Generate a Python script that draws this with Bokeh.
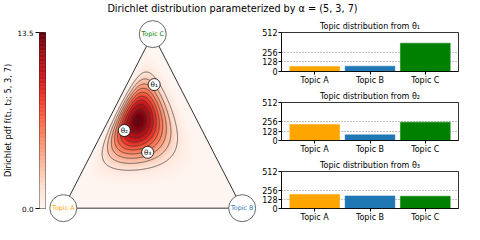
import math
import numpy as np
from bokeh.plotting import figure
from bokeh.layouts import column, row
from bokeh.models import (LinearColorMapper, FixedTicker, PrintfTickFormatter,
                          FactorRange, ColumnDataSource, Range1d)
from bokeh.core.properties import value
from bokeh.palettes import Reds9
from bokeh.embed import file_html
from bokeh.resources import INLINE

# ---------------- data ----------------
alpha = [5, 3, 7]
cbar_ticks = [0.0, 13.5]
topics = ["Topic A", "Topic B", "Topic C"]
topic_colors = ["#ffa500", "#1f77b4", "#008000"]
theta_names = ["θ₁", "θ₂", "θ₃"]
theta_a = [0.137, 0.436, 0.368]
theta_b = [0.153, 0.118, 0.311]
theta_c = [0.710, 0.446, 0.321]
counts_1 = [66, 70, 372]
counts_2 = [214, 76, 247]
counts_3 = [195, 174, 170]
bar_ticks = [0, 128, 256, 512]
contour_levels = [1.35, 2.7, 4.05, 5.4, 6.75, 8.1, 9.45, 10.8, 12.15, 13.45]

FONT = "DejaVu Sans"

# ---------------- colormap (matplotlib-like Reds) ----------------
base = list(Reds9)[::-1]  # light -> dark
rgb = np.array([[int(h[i:i + 2], 16) for i in (1, 3, 5)] for h in base], dtype=float)
pos = np.linspace(0, 1, len(base))
t = np.linspace(0, 1, 256)
interp = np.stack([np.interp(t, pos, rgb[:, k]) for k in range(3)], axis=1)
reds = ["#%02x%02x%02x" % tuple(int(round(v)) for v in c) for c in interp]
mapper = LinearColorMapper(palette=reds, low=cbar_ticks[0], high=cbar_ticks[-1], nan_color="white")


def no_align(p):
    try:
        p.frame_align = False
    except Exception:
        pass


def to_xy(a, b, c):
    a = np.asarray(a, float); b = np.asarray(b, float); c = np.asarray(c, float)
    return b + c / 2.0, c


# ---------------- density on simplex ----------------
n = 400
gx = np.linspace(0, 1, n)
gy = np.linspace(0, 1, n)
GX, GY = np.meshgrid(gx, gy)
Cc = GY
Bb = GX - GY / 2.0
Aa = 1.0 - Bb - Cc
inside = (Aa >= 0) & (Bb >= 0) & (Cc >= 0)
lognorm = math.lgamma(sum(alpha)) - sum(math.lgamma(a) for a in alpha)
with np.errstate(divide="ignore", invalid="ignore"):
    Z = np.exp(lognorm + (alpha[0] - 1) * np.log(np.clip(Aa, 1e-300, None))
               + (alpha[1] - 1) * np.log(np.clip(Bb, 1e-300, None))
               + (alpha[2] - 1) * np.log(np.clip(Cc, 1e-300, None)))
Z = np.where(inside, Z, 0.0)
IMG = np.where(inside, Z, np.nan)

# ---------------- title strip ----------------
head = figure(width=464, height=16, toolbar_location=None, output_backend="svg",
              title="Dirichlet distribution parameterized by α = (5, 3, 7)",
              x_range=Range1d(0, 1), y_range=Range1d(0, 1), min_border=0)
head.title.align = "center"
head.title.text_font = FONT
head.title.text_font_size = "9.7px"
head.title.text_font_style = "normal"
head.title.text_color = "black"
head.title.standoff = 0
head.axis.visible = False
head.grid.visible = False
head.outline_line_color = None
no_align(head)

# ---------------- colorbar ----------------
cb = figure(width=46, height=208, toolbar_location=None, output_backend="svg",
            x_range=Range1d(0, 1), y_range=Range1d(cbar_ticks[0], cbar_ticks[-1]),
            min_border_left=39, min_border_right=1, min_border_top=16, min_border_bottom=16)
no_align(cb)
edges = np.linspace(cbar_ticks[0], cbar_ticks[-1], 129)
cb_src = ColumnDataSource(dict(bottom=edges[:-1], top=edges[1:], mid=(edges[:-1] + edges[1:]) / 2))
cb.quad(left=0, right=1, bottom="bottom", top="top", source=cb_src,
        fill_color={"field": "mid", "transform": mapper},
        line_color={"field": "mid", "transform": mapper}, line_width=0.6)
cb.xaxis.visible = False
cb.grid.visible = False
cb.yaxis.ticker = FixedTicker(ticks=cbar_ticks)
cb.yaxis.formatter = PrintfTickFormatter(format="%.1f")
cb.yaxis.axis_label = "Dirichlet pdf f(t₁, t₂; 5, 3, 7)"
cb.yaxis.axis_label_text_font = FONT
cb.yaxis.axis_label_text_font_size = "8.3px"
cb.yaxis.axis_label_text_font_style = "normal"
cb.yaxis.axis_label_text_color = "black"
cb.yaxis.axis_label_standoff = 1
cb.yaxis.major_label_text_font = FONT
cb.yaxis.major_label_text_font_size = "7.2px"
cb.yaxis.major_label_text_color = "black"
cb.yaxis.major_label_standoff = 2
cb.yaxis.major_tick_out = 4
cb.yaxis.major_tick_in = 0
cb.yaxis.minor_tick_out = 0
cb.yaxis.axis_line_color = None
cb.yaxis.major_tick_line_color = "black"
cb.outline_line_color = "black"
cb.outline_line_width = 0.8

# ---------------- simplex plot ----------------
tri = figure(width=213, height=208, toolbar_location=None, output_backend="svg",
             x_range=Range1d(-0.0941, 1.0970), y_range=Range1d(-0.0938, 1.1011),
             min_border=0)
no_align(tri)
tri.axis.visible = False
tri.grid.visible = False
tri.outline_line_color = None
tri.image(image=[IMG], x=0, y=0, dw=1, dh=1, color_mapper=mapper)
tri.contour(x=gx, y=gy, z=Z, levels=contour_levels, fill_color=None,
            line_color="#333333", line_width=0.7)

corner_a = [1, 0, 0]
corner_b = [0, 1, 0]
corner_c = [0, 0, 1]
vx, vy = to_xy(corner_a, corner_b, corner_c)
tri.line(x=list(vx) + [vx[0]], y=list(vy) + [vy[0]], line_color="#333333", line_width=1)
tri.scatter(x=vx, y=vy, marker="circle", size=27, fill_color="white",
            line_color="#444444", line_width=0.8)
tri.text(x=vx, y=vy, text=topics, text_color=topic_colors, text_font=value(FONT),
         text_font_size="6.4px", text_align="center", text_baseline="middle")

tx, ty = to_xy(theta_a, theta_b, theta_c)
tri.scatter(x=tx, y=ty, marker="circle", size=12, fill_color="white",
            line_color="black", line_width=0.8)
tri.text(x=tx, y=ty, text=theta_names, text_color="black", text_font=value(FONT),
         text_font_size="7.2px", text_align="center", text_baseline="middle")


# ---------------- bar panels ----------------
def make_bar(counts, label, height, top, standoff):
    p = figure(width=205, height=height, toolbar_location=None, output_backend="svg",
               x_range=FactorRange(factors=topics, range_padding=0.1, range_padding_units="absolute"),
               y_range=Range1d(bar_ticks[0], bar_ticks[-1]), title=label,
               min_border_left=22, min_border_right=6, min_border_top=top,
               min_border_bottom=12)
    no_align(p)
    src = ColumnDataSource(dict(topic=topics, count=counts, color=topic_colors))
    p.vbar(x="topic", top="count", width=0.9, fill_color="color", line_color="color",
           line_width=0.5, source=src)
    p.title.align = "center"
    p.title.text_font = FONT
    p.title.text_font_size = "8px"
    p.title.text_font_style = "normal"
    p.title.text_color = "black"
    p.title.standoff = standoff
    p.xgrid.visible = False
    p.ygrid.ticker = FixedTicker(ticks=bar_ticks)
    p.ygrid.grid_line_color = "#666666"
    p.ygrid.grid_line_dash = "1 2"
    p.ygrid.grid_line_width = 0.8
    p.yaxis.ticker = FixedTicker(ticks=bar_ticks)
    for ax in (p.xaxis[0], p.yaxis[0]):
        ax.major_label_text_font = FONT
        ax.major_label_text_font_size = "8px"
        ax.major_label_text_color = "black"
        ax.major_tick_out = 3
        ax.major_tick_in = 0
        ax.minor_tick_out = 0
        ax.minor_tick_line_color = None
        ax.major_tick_line_color = "black"
        ax.axis_line_color = "black"
        ax.axis_line_width = 0.8
        ax.axis_label = None
        ax.axis_label_standoff = 0
    p.xaxis.major_label_standoff = 1
    p.yaxis.major_label_standoff = 1
    p.outline_line_color = "black"
    p.outline_line_width = 0.8
    return p


b1 = make_bar(counts_1, "Topic distribution from θ₁", 71, 16, 4)
b2 = make_bar(counts_2, "Topic distribution from θ₂", 69, 14, 4)
b3 = make_bar(counts_3, "Topic distribution from θ₃", 68, 14, 4)

layout = column(head, row(cb, tri, column(b1, b2, b3)))

open("out.html", "w").write(file_html(layout, INLINE))
